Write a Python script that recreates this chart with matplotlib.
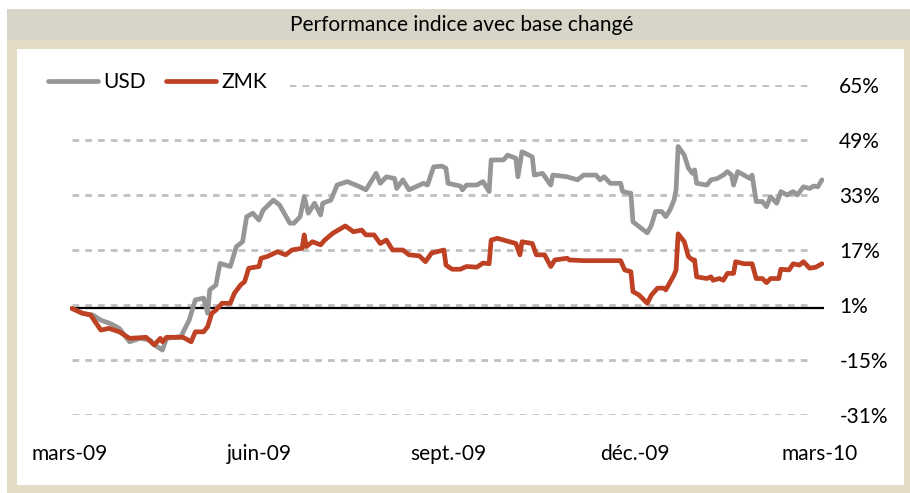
import matplotlib.pyplot as plt
import pandas as pd
from matplotlib.patches import Rectangle

# days since 1 March 2009
base = pd.Timestamp("2009-03-01")

usd_day = [1, 6, 11, 15, 20, 24, 29, 34, 39, 41, 45, 47, 54, 58, 61, 65, 67, 68, 71, 73,
           78, 81, 84, 86, 89, 92, 94, 99, 102, 107, 109, 112, 114, 116, 119, 122, 123, 127,
           130, 135, 141, 144, 146, 149, 151, 154, 158, 159, 162, 165, 172, 174, 177, 181,
           183, 184, 190, 191, 193, 198, 201, 204, 205, 211, 213, 217, 218, 220, 225, 226,
           230, 234, 235, 242, 247, 250, 256, 258, 260, 263, 268, 269, 273, 274, 277, 281,
           283, 285, 288, 290, 292, 294, 295, 296, 299, 301, 303, 304, 305, 310, 312, 315,
           318, 320, 322, 323, 325, 328, 331, 332, 334, 337, 339, 341, 344, 346, 349, 352,
           354, 357, 360, 362, 364, 366]
usd_val = [0, -1.4, -1.9, -3.4, -4.5, -5.8, -9.7, -8.7, -9.2, -10.6, -12.1, -8.7, -8.2, -3.4,
           2.5, 3.0, -1.4, 5.4, 6.8, 13.1, 12.2, 18.0, 19.4, 26.7, 27.7, 25.7, 28.6, 31.5,
           30.1, 24.8, 24.8, 26.7, 32.5, 27.7, 30.6, 27.2, 30.6, 31.5, 35.9, 36.9, 35.4, 34.5,
           36.4, 39.3, 36.4, 38.3, 37.8, 34.9, 37.4, 34.5, 36.4, 35.9, 41.2, 41.4, 40.8, 36.4,
           35.6, 34.5, 35.9, 35.9, 36.9, 34.0, 43.2, 43.2, 44.6, 43.7, 38.3, 45.6, 44.1, 38.8,
           39.3, 35.9, 38.8, 38.3, 37.4, 38.8, 38.8, 37.4, 38.3, 36.4, 36.4, 34.0, 33.5, 25.2,
           23.8, 22.0, 24.2, 28.2, 28.2, 26.7, 28.6, 31.5, 34.5, 47.1, 44.6, 40.8, 39.3, 40.3,
           36.4, 35.9, 37.4, 37.8, 38.8, 39.8, 38.8, 35.9, 39.8, 38.8, 37.8, 38.8, 31.1, 31.1,
           29.6, 32.5, 30.6, 34.0, 33.0, 34.0, 33.0, 35.4, 34.9, 35.6, 35.4, 37.4]

zmk_day = [1, 6, 10, 15, 19, 24, 29, 37, 41, 44, 45, 47, 55, 59, 61, 65, 67, 69, 71, 74,
           78, 80, 83, 85, 87, 92, 93, 96, 101, 105, 108, 113, 114, 115, 118, 122, 124, 128,
           134, 138, 142, 144, 148, 151, 154, 157, 162, 165, 170, 173, 176, 182, 183, 186,
           190, 193, 198, 201, 204, 205, 208, 217, 219, 220, 225, 227, 231, 234, 236, 242,
           243, 250, 268, 270, 273, 274, 277, 281, 283, 286, 289, 290, 294, 295, 296, 299,
           301, 303, 304, 305, 310, 312, 313, 316, 318, 320, 323, 324, 328, 332, 334, 337,
           339, 341, 345, 346, 350, 352, 355, 357, 360, 363, 366]
zmk_val = [0, -1.4, -1.9, -6.3, -5.8, -6.8, -8.7, -8.4, -10.6, -8.7, -9.7, -8.4, -8.4, -9.7,
           -6.8, -6.8, -5.3, -1.4, -0.5, 1.5, 1.5, 4.4, 6.8, 7.8, 11.7, 12.2, 14.6, 15.1, 16.5,
           15.6, 17.0, 17.5, 21.4, 18.0, 19.4, 18.5, 19.9, 21.9, 24.0, 22.3, 22.8, 21.4, 21.4,
           18.9, 19.9, 17.0, 17.0, 15.6, 15.3, 13.6, 16.1, 17.0, 12.6, 11.4, 11.4, 12.2, 12.0,
           13.2, 13.0, 19.9, 20.4, 18.9, 15.6, 19.4, 18.9, 15.6, 15.6, 12.2, 14.1, 14.6, 14.1,
           13.9, 13.9, 11.2, 10.7, 4.9, 3.9, 1.5, 3.9, 5.9, 5.9, 5.4, 9.7, 11.2, 21.7, 19.4,
           15.1, 14.1, 14.1, 9.2, 8.7, 9.2, 8.2, 8.7, 8.2, 10.2, 10.2, 13.6, 13.0, 13.0, 8.7,
           8.7, 7.5, 8.7, 8.7, 11.4, 11.2, 13.0, 12.6, 13.6, 11.7, 12.0, 13.0]

y_ticks = [65, 49, 33, 17, 1, -15, -31]
x_ticks = ["2009-03-01", "2009-06-01", "2009-09-01", "2009-12-01", "2010-03-01"]
x_labels = ["mars-09", "juin-09", "sept.-09", "déc.-09", "mars-10"]

plt.rcParams["font.family"] = ["Lato", "DejaVu Sans"]

W, H = 910, 493
fig = plt.figure(figsize=(W / 100, H / 100), dpi=100)


def box(x0, y0, x1, y1, color):
    # pixel box, origin top-left
    fig.patches.append(Rectangle((x0 / W, 1 - y1 / H), (x1 - x0) / W, (y1 - y0) / H,
                                 transform=fig.transFigure, facecolor=color,
                                 edgecolor="none", zorder=-5))


box(7, 9, 910, 493, "#E5DCC5")
box(7, 9, 910, 40, "#D6D5C8")
box(17, 49, 904, 485, "white")
fig.text(462 / W, 1 - 25 / H, "Performance indice avec base changé",
         ha="center", va="center", fontsize=15, color="black")

ax = fig.add_axes([70 / W, 1 - 415 / H, 754 / W, 330 / H])
ax.patch.set_alpha(0)

for y in y_ticks:
    ax.axhline(y, xmin=0.002, xmax=0.985, color="#C0C0C0", lw=2,
               dashes=(2.4, 2.2), zorder=1)
ax.axhline(0, color="black", lw=1.6, zorder=2)

usd_x = base + pd.to_timedelta(usd_day, unit="D")
zmk_x = base + pd.to_timedelta(zmk_day, unit="D")
ax.plot(usd_x, usd_val, color="#969696", lw=3.4, label="USD", zorder=3,
        solid_joinstyle="round", solid_capstyle="round")
ax.plot(zmk_x, zmk_val, color="#BF4124", lw=3.4, label="ZMK", zorder=4,
        solid_joinstyle="round", solid_capstyle="round")

ax.set_xlim(base, base + pd.Timedelta(days=367))
ax.set_ylim(-31, 65)
ax.set_xticks(pd.to_datetime(x_ticks))
ax.set_xticklabels(x_labels)
ax.yaxis.tick_right()
ax.set_yticks(y_ticks)
ax.set_yticklabels([f"{v}%" for v in y_ticks])
ax.tick_params(axis="x", length=0, pad=21, labelsize=15)
ax.tick_params(axis="y", length=0, pad=11, labelsize=15)
for s in ax.spines.values():
    s.set_visible(False)

leg = ax.legend(loc="center left", bbox_to_anchor=(19 / W, 1 - 82 / H),
                bbox_transform=fig.transFigure, ncol=2, frameon=True,
                facecolor="white", edgecolor="none", framealpha=1, fancybox=False,
                fontsize=15, handlelength=2.4, handletextpad=0.25,
                columnspacing=0.95, borderpad=0.9)

fig.savefig("out.png", dpi=100)
